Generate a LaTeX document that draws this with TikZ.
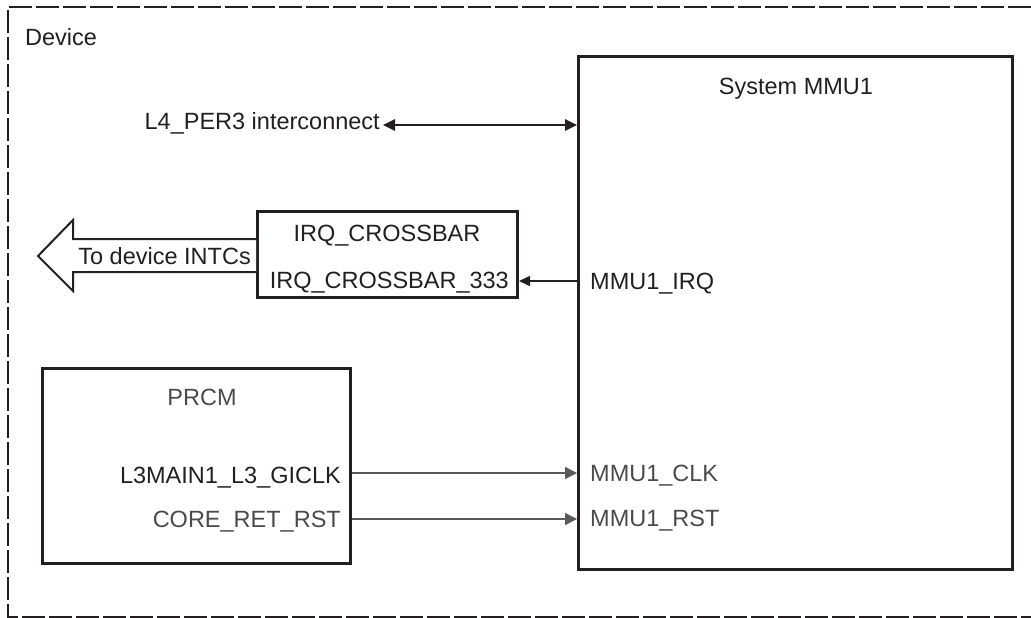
\documentclass[tikz,border=0pt]{standalone}
\usepackage{fontspec}
\setmainfont{Liberation Sans}
\usetikzlibrary{arrows.meta}
\definecolor{ink}{HTML}{231F20}
\definecolor{grayink}{HTML}{4A4A4A}
\definecolor{wire}{HTML}{5A5A5A}
\tikzset{
  blk/.style={draw=ink, line width=3pt, rectangle, anchor=north west, inner sep=0pt},
  lbl/.style={inner sep=0pt, text=ink, font=\fontsize{23.5}{28}\selectfont},
  glbl/.style={lbl, text=grayink},
  busarrow/.style={draw=ink, line width=2.5pt, {Triangle[length=12pt,width=11pt]}-{Triangle[length=12pt,width=11pt]}},
  sigarrow/.style={draw=ink, line width=1.5pt, -{Triangle[length=11pt,width=10pt]}},
  grayarrow/.style={draw=wire, line width=1.5pt, -{Triangle[length=12pt,width=12pt]}},
  devborder/.style={draw=ink, line width=2pt, dash pattern=on 23pt off 4pt},
  fatarrow/.style={draw=ink, line width=2pt, fill=white, line join=miter}
}
\begin{document}
\begin{tikzpicture}[x=1pt,y=-1pt]
\useasboundingbox (0,0) rectangle (1031,618);
% device border
\draw[devborder] (1031,7) -- (8,7) -- (8,617) -- (1031,617);
\node[lbl, anchor=base west] (dev) at (25,46) {Device};

% System MMU1
\node[blk, minimum width=434pt, minimum height=513pt] (mmu) at (577,55) {};
\node[lbl, anchor=base] (mmut) at (796,94) {System MMU1};
\node[lbl, anchor=base west] (mirq) at (590,289) {MMU1\_IRQ};
\node[glbl, anchor=base west] (mclk) at (590,481) {MMU1\_CLK};
\node[glbl, anchor=base west] (mrst) at (590,526) {MMU1\_RST};

% L4 interconnect
\node[lbl, anchor=base east] (l4) at (380,129) {L4\_PER3 interconnect};
\coordinate (l4end) at (383,125);
\draw[busarrow] (l4end) -- (mmu.west |- l4end);

% IRQ crossbar
\node[blk, minimum width=260pt, minimum height=86pt] (xbar) at (256,210) {};
\node[lbl, anchor=base] (xbart) at (387,241) {IRQ\_CROSSBAR};
\node[lbl, anchor=base east] (xbar333) at (509,288) {IRQ\_CROSSBAR\_333};
\coordinate (irqy) at (0,281);
\draw[sigarrow] (mmu.west |- irqy) -- (xbar.east |- irqy);

% to device INTCs fat arrow
\draw[fatarrow] (xbar.west |- 0,239) -- (73,239) -- (73,220) -- (38,256) -- (73,291) -- (73,272) -- (xbar.west |- 0,272);
\node[lbl, anchor=base east] (intc) at (251,264) {To device INTCs};

% PRCM
\node[blk, minimum width=308pt, minimum height=195pt] (prcm) at (41,367) {};
\node[glbl, anchor=base] (prcmt) at (202,405) {PRCM};
\node[lbl, anchor=base east] (gclk) at (341,483) {L3MAIN1\_L3\_GICLK};
\node[glbl, anchor=base east] (crst) at (341,527) {CORE\_RET\_RST};
\coordinate (clky) at (0,473);
\coordinate (rsty) at (0,519);
\draw[grayarrow] (prcm.east |- clky) -- (mmu.west |- clky);
\draw[grayarrow] (prcm.east |- rsty) -- (mmu.west |- rsty);
\end{tikzpicture}
\end{document}
